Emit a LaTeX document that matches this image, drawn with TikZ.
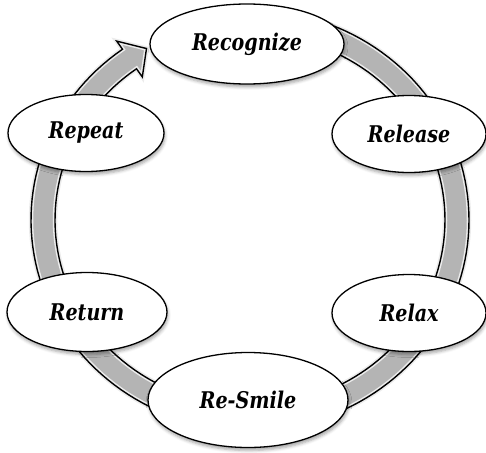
\documentclass[tikz,border=0pt]{standalone}
\usepackage{fontspec}
\setmainfont{DejaVu Serif}[FakeStretch=0.83]
\usetikzlibrary{shapes.geometric,shadows.blur}
\definecolor{bandgray}{RGB}{180,180,180}
\tikzset{
  stage/.style={ellipse, draw=black, line width=1.3pt, fill=white, inner sep=0pt,
    font=\fontsize{23}{28}\selectfont\bfseries\itshape,
    blur shadow={shadow xshift=1pt, shadow yshift=-3pt, shadow blur radius=3pt, shadow opacity=35}},
  bandline/.style={draw=black, line width=1.4pt, line join=miter}
}
\begin{document}
\begin{tikzpicture}[x=1pt,y=-1pt]
\useasboundingbox (0,0) rectangle (486,452);
\def\cx{250}\def\cy{220}
% circular arrow band
\path[fill=bandgray, draw=gray!15, line width=4.5pt, line join=miter]
  plot[domain=265:594.4, samples=150] ({\cx+219*cos(\x)},{\cy+210*sin(\x)})
  -- ({\cx+229*cos(594.4)},{\cy+220*sin(594.4)})
  -- ({\cx+207*cos(600)},{\cy+198*sin(600)}) coordinate (tip)
  -- ({\cx+185*cos(594.4)},{\cy+176*sin(594.4)})
  -- plot[domain=594.4:265, samples=150] ({\cx+195*cos(\x)},{\cy+186*sin(\x)})
  -- cycle;
\path[bandline]
  plot[domain=265:594.4, samples=150] ({\cx+219*cos(\x)},{\cy+210*sin(\x)})
  -- ({\cx+229*cos(594.4)},{\cy+220*sin(594.4)})
  -- (tip)
  -- ({\cx+185*cos(594.4)},{\cy+176*sin(594.4)})
  -- plot[domain=594.4:265, samples=150] ({\cx+195*cos(\x)},{\cy+186*sin(\x)})
  -- cycle;
% stages
\node[stage, minimum width=194pt, minimum height=80pt] (recognize) at (247,44) {Recognize};
\node[stage, minimum width=154pt, minimum height=77pt] (release) at (409,134) {Release};
\node[stage, minimum width=154pt, minimum height=77pt] (relax) at (409,313) {Relax};
\node[stage, minimum width=200pt, minimum height=95pt] (resmile) at (248,400) {Re-Smile};
\node[stage, minimum width=160pt, minimum height=79pt] (return) at (87,312) {Return};
\node[stage, minimum width=156pt, minimum height=77pt] (repeat) at (86,133) {Repeat};
\end{tikzpicture}
\end{document}
